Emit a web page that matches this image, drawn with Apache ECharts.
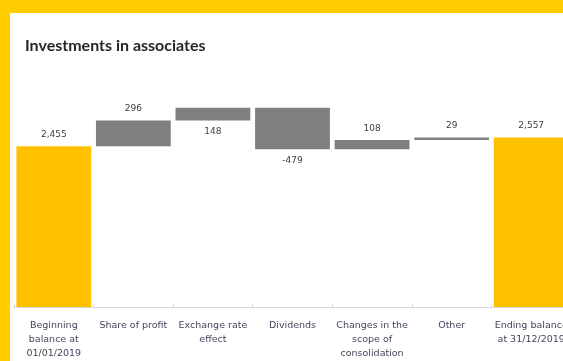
<!DOCTYPE html>
<html>
<head>
<meta charset="utf-8">
<script src="https://cdn.jsdelivr.net/npm/echarts@6/dist/echarts.min.js"></script>
<style>
html,body{margin:0;padding:0;background:#FFCC00;overflow:hidden;}
#frame{position:absolute;left:10px;top:13px;width:553px;height:348px;background:#fff;}
#chart{position:absolute;left:0;top:0;width:563px;height:361px;}
</style>
</head>
<body>
<div id="frame"></div>
<div id="chart"></div>
<script>
const categories = [
  "Beginning\nbalance at\n01/01/2019",
  "Share of profit",
  "Exchange rate\neffect",
  "Dividends",
  "Changes in the\nscope of\nconsolidation",
  "Other",
  "Ending balance\nat 31/12/2019"
];
const openingBalance = 2455;
const changes = [296, 148, -479, 108, 29];
const closingBalance = 2557;
const changeLabels = ["296", "148", "-479", "108", "29"];

// build waterfall stacks
const baseData = [0];
const barData = [openingBalance];
const isTotal = [true];
let run = openingBalance;
changes.forEach(d => {
  const next = run + d;
  baseData.push(Math.min(run, next));
  barData.push(Math.abs(d));
  isTotal.push(false);
  run = next;
});
baseData.push(0);
barData.push(closingBalance);
isTotal.push(true);
const labelTexts = [openingBalance.toLocaleString('en-US')].concat(changeLabels, [closingBalance.toLocaleString('en-US')]);
const belowIdx = [2, 3];

const chart = echarts.init(document.getElementById('chart'), null, {renderer: 'canvas'});
chart.setOption({
  backgroundColor: 'transparent',
  animation: false,
  title: {
    text: 'Investments in associates',
    left: 20, top: 33,
    textStyle: {fontFamily: 'Lato', fontWeight: 'bold', fontSize: 16, color: '#262626'}
  },
  grid: {left: 14, width: 557, top: 99, bottom: 54, containLabel: false, outerBoundsMode: 'none'},
  xAxis: {
    type: 'category',
    data: categories,
    axisLine: {lineStyle: {color: '#d9d9d9', width: 1}},
    axisTick: {show: true, inside: true, length: 3, lineStyle: {color: '#d9d9d9'}},
    axisLabel: {interval: 0, fontFamily: 'DejaVu Sans', fontSize: 9.5, color: '#45455a', lineHeight: 14, margin: 12}
  },
  yAxis: {type: 'value', min: 600, max: 3000, show: false, splitLine: {show: false}},
  series: [
    {
      type: 'bar', stack: 'w', barWidth: '94%',
      itemStyle: {color: 'transparent'},
      data: baseData, silent: true
    },
    {
      type: 'bar', stack: 'w', barWidth: '94%',
      data: barData.map((v, i) => ({
        value: v,
        itemStyle: {color: isTotal[i] ? '#FFC000' : '#7F7F7F'},
        label: {
          show: true,
          position: belowIdx.includes(i) ? 'bottom' : 'top',
          distance: 7,
          formatter: () => labelTexts[i],
          fontFamily: 'DejaVu Sans', fontSize: 9, color: '#404040'
        }
      }))
    }
  ]
});
</script>
</body>
</html>
